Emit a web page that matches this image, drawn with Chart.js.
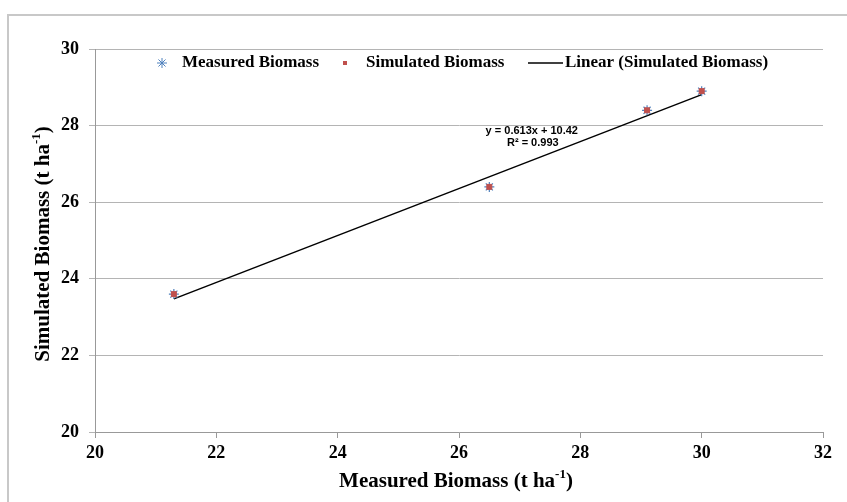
<!DOCTYPE html>
<html lang="en">
<head>
<meta charset="UTF-8">
<title>Biomass</title>
<script src="https://cdn.jsdelivr.net/npm/chart.js"></script>
<style>
  body { margin: 0; background: #fff; }
  #wrap { position: relative; width: 847px; height: 502px; overflow: hidden; }
  #frame { position: absolute; left: 7px; top: 14px; width: 900px; height: 600px;
           border-left: 2px solid #c8c8c8; border-top: 2px solid #c8c8c8; }
  #myChart { position: absolute; left: 0; top: 0; }
</style>
</head>
<body>
<div id="wrap">
  <div id="frame"></div>
  <canvas id="myChart" width="847" height="502"></canvas>
</div>
<script>
  // measured vs simulated biomass (t/ha)
  const measured = [21.3, 26.5, 29.1, 30.0];
  const simulated = [23.6, 26.4, 28.4, 28.9];
  // trendline from the excel label
  const slope = 0.613;
  const intercept = 10.42;
  const rSquared = 0.993;
  const xTicks = [20, 22, 24, 26, 28, 30, 32];
  const yTicks = [20, 22, 24, 26, 28, 30];
  const seriesNames = ['Measured Biomass', 'Simulated Biomass', 'Linear (Simulated Biomass)'];

  const serif = '"Liberation Serif", "Times New Roman", serif';
  const blue = '#4f81bd';
  const red = '#c0504d';

  const points = measured.map((m, i) => ({ x: m, y: simulated[i] }));
  const xMin = Math.min(...measured);
  const xMax = Math.max(...measured);
  const trend = [
    { x: xMin, y: slope * xMin + intercept },
    { x: xMax, y: slope * xMax + intercept }
  ];

  // legend, axis titles with superscript, equation label
  const extras = {
    id: 'extras',
    afterDraw(chart) {
      const ctx = chart.ctx;
      const area = chart.chartArea;
      ctx.save();
      ctx.fillStyle = '#000';

      function drawTitle(base, sup, cx, cy, size) {
        const small = Math.round(size * 0.6);
        ctx.font = 'bold ' + size + 'px ' + serif;
        const w1 = ctx.measureText(base).width;
        const w3 = ctx.measureText(')').width;
        ctx.font = 'bold ' + small + 'px ' + serif;
        const w2 = ctx.measureText(sup).width;
        let x = cx - (w1 + w2 + w3) / 2;
        ctx.textBaseline = 'middle';
        ctx.textAlign = 'left';
        ctx.font = 'bold ' + size + 'px ' + serif;
        ctx.fillText(base, x, cy);
        x += w1;
        ctx.font = 'bold ' + small + 'px ' + serif;
        ctx.fillText(sup, x, cy - size * 0.33);
        x += w2;
        ctx.font = 'bold ' + size + 'px ' + serif;
        ctx.fillText(')', x, cy);
      }

      drawTitle('Measured Biomass (t ha', '-1', 456, 482, 21);

      ctx.save();
      ctx.translate(44, 244);
      ctx.rotate(-Math.PI / 2);
      drawTitle('Simulated Biomass (t ha', '-1', 0, 0, 21);
      ctx.restore();

      // legend row
      const ly = 63;
      ctx.font = 'bold 17px ' + serif;
      ctx.textAlign = 'left';
      ctx.textBaseline = 'middle';
      ctx.strokeStyle = blue;
      ctx.fillStyle = blue;
      Chart.helpers.drawPoint(ctx, { pointStyle: 'star', radius: 5, borderWidth: 1.2 }, 162, ly);
      ctx.fillStyle = '#000';
      ctx.fillText(seriesNames[0], 182, ly);
      ctx.fillStyle = red;
      ctx.fillRect(343, ly - 2, 4, 4);
      ctx.fillStyle = '#000';
      ctx.fillText(seriesNames[1], 366, ly);
      ctx.strokeStyle = '#000';
      ctx.lineWidth = 1.5;
      ctx.beginPath();
      ctx.moveTo(528, ly);
      ctx.lineTo(563, ly);
      ctx.stroke();
      ctx.fillText(seriesNames[2], 565, ly);

      // equation
      const xs = chart.scales.x, ys = chart.scales.y;
      const ex = xs.getPixelForValue(27.2);
      const ey = ys.getPixelForValue(27.85);
      ctx.font = 'bold 11px "Liberation Sans", Arial, sans-serif';
      ctx.textAlign = 'center';
      ctx.fillText('y = ' + slope + 'x + ' + intercept.toFixed(2), ex, ey);
      ctx.fillText('R\u00b2 = ' + rSquared, ex + 1, ey + 12);
      ctx.restore();
    }
  };

  const config = {
    type: 'scatter',
    data: {
      datasets: [
        {
          label: seriesNames[1],
          data: points,
          pointStyle: 'rect',
          pointRadius: 3.5,
          pointHoverRadius: 3.5,
          backgroundColor: red,
          borderColor: red,
          borderWidth: 1,
          order: 1
        },
        {
          label: seriesNames[0],
          data: points,
          pointStyle: 'star',
          pointRadius: 5,
          pointHoverRadius: 5,
          backgroundColor: blue,
          borderColor: blue,
          borderWidth: 1.2,
          order: 2
        },
        {
          label: seriesNames[2],
          type: 'line',
          data: trend,
          showLine: true,
          pointRadius: 0,
          borderColor: '#000',
          borderWidth: 1.5,
          order: 3
        }
      ]
    },
    options: {
      responsive: false,
      animation: false,
      layout: { padding: { top: 49, right: 24, left: 0, bottom: 0 } },
      plugins: {
        tooltip: { enabled: false },
        legend: { display: false }
      },
      scales: {
        x: {
          type: 'linear',
          min: 20, max: 32,
          afterBuildTicks: s => { s.ticks = xTicks.map(v => ({ value: v })); },
          afterFit: s => { s.height = 70; },
          grid: { drawOnChartArea: false, color: '#999', tickLength: 6 },
          border: { color: '#999', width: 1 },
          ticks: { color: '#000', padding: 5, font: { family: serif, size: 18, weight: 'bold' } }
        },
        y: {
          min: 20, max: 30,
          afterBuildTicks: s => { s.ticks = yTicks.map(v => ({ value: v })); },
          afterFit: s => { s.width = 95; },
          grid: { color: '#b4b4b4', tickLength: 6 },
          border: { color: '#999', width: 1 },
          ticks: { color: '#000', padding: 10, font: { family: serif, size: 18, weight: 'bold' } }
        }
      }
    },
    plugins: [extras]
  };

  const myChart = new Chart(document.getElementById('myChart'), config);
</script>
</body>
</html>
